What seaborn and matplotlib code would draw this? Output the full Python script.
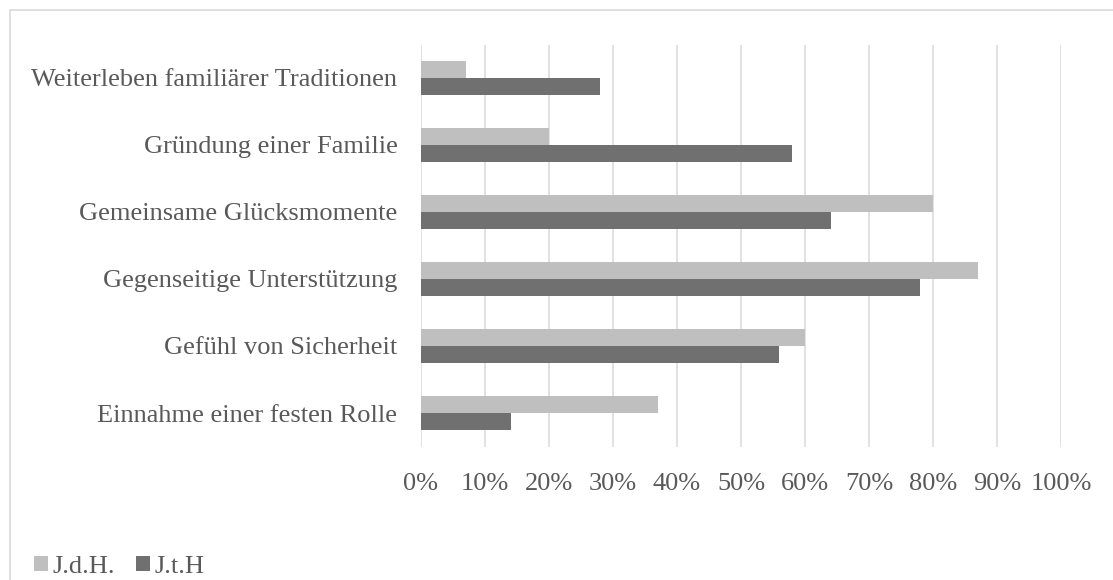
import matplotlib
matplotlib.use("Agg")
from matplotlib import pyplot as plt
from matplotlib.patches import Patch, Rectangle
from matplotlib.ticker import PercentFormatter
import pandas as pd
import seaborn as sns

# * data (percent)
categories = [
    "Weiterleben familiärer Traditionen",
    "Gründung einer Familie",
    "Gemeinsame Glücksmomente",
    "Gegenseitige Unterstützung",
    "Gefühl von Sicherheit",
    "Einnahme einer festen Rolle",
]
series_names = ["J.d.H.", "J.t.H"]
jdh_values = [7, 20, 80, 87, 60, 37]
jth_values = [28, 58, 64, 78, 56, 14]
x_ticks = [0, 10, 20, 30, 40, 50, 60, 70, 80, 90, 100]

colors = ["#bfbfbf", "#707070"]
text_color = "#595959"
grid_color = "#d9d9d9"

# long form table for seaborn
df = pd.DataFrame({
    "Kategorie": categories * 2,
    "Gruppe": [series_names[0]] * len(categories) + [series_names[1]] * len(categories),
    "Wert": jdh_values + jth_values,
})

sns.set_style("white")
plt.rcParams["font.family"] = ["Liberation Serif", "DejaVu Serif"]

fig = plt.figure(figsize=(11.13, 5.80), dpi=100)
ax = fig.add_axes([421 / 1113, 1 - 446.5 / 580, 640 / 1113, 402 / 580])

sns.barplot(data=df, x="Wert", y="Kategorie", hue="Gruppe", order=categories,
            hue_order=series_names, palette=colors, orient="h", width=0.52,
            linewidth=0, saturation=1, ax=ax, legend=False)

ax.set_xlim(0, 100)
ax.set_ylim(len(categories) - 0.5, -0.5)
ax.set_xticks(x_ticks)
ax.xaxis.set_major_formatter(PercentFormatter(xmax=100, decimals=0))
ax.grid(axis="x", color=grid_color, linewidth=1.1)
ax.set_axisbelow(True)
for s in ax.spines.values():
    s.set_visible(False)
ax.set_xlabel("")
ax.set_ylabel("")
ax.tick_params(axis="x", length=0, pad=19, labelsize=19, labelcolor=text_color)
ax.tick_params(axis="y", length=0, pad=17, labelsize=19, labelcolor=text_color)

# legend at bottom left
handles = [Patch(facecolor=c, edgecolor="none") for c in colors]
fig.legend(handles, series_names, loc="center left",
           bbox_to_anchor=(34 / 1113, 1 - 567 / 580), ncol=2, frameon=False,
           fontsize=19, labelcolor=text_color, borderpad=0, borderaxespad=0,
           handlelength=0.53, handleheight=0.53, handletextpad=0.17,
           columnspacing=0.8)

# light frame around the chart area
fig.add_artist(Rectangle((10 / 1113, -0.2), 1.2, 1.2 - 10 / 580,
                         transform=fig.transFigure, fill=False,
                         edgecolor=grid_color, linewidth=1.2))

fig.savefig("out.png", dpi=100)
